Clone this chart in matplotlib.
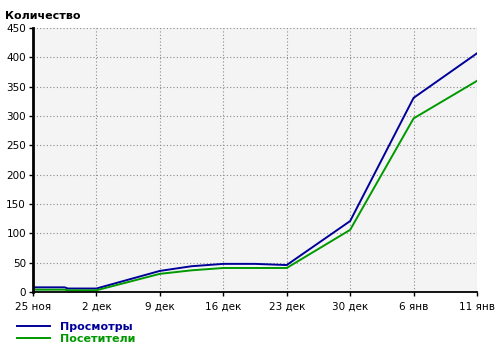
import matplotlib.pyplot as plt

# позиции меток по оси X (равномерные)
labels = ['25 ноя', '2 дек', '9 дек', '16 дек', '23 дек', '30 дек', '6 янв', '11 янв']
ticks = list(range(len(labels)))

# точки линий (индекс метки, значение)
x_views = [0, 0.5, 0.55, 1, 2, 2.5, 3, 3.5, 4, 5, 6, 7]
views = [8, 8, 6, 6, 36, 44, 48, 48, 46, 121, 331, 407]

x_visitors = [0, 0.5, 0.55, 1, 2, 2.5, 3, 4, 5, 6, 7]
visitors = [4, 4, 3, 3, 31, 37, 41, 41, 106, 296, 360]

plt.rcParams['font.family'] = ['DejaVu Sans']

fig = plt.figure(figsize=(5, 3.51), dpi=100)
ax = fig.add_axes([0.066, 0.168, 0.888, 0.752])
ax.set_facecolor('#f4f4f4')

ax.plot(x_views, views, color='#000099', lw=1.4, label='Просмотры')
ax.plot(x_visitors, visitors, color='#009900', lw=1.4, label='Посетители')

ax.set_xlim(0, 7)
ax.set_ylim(0, 450)
ax.set_xticks(ticks)
ax.set_xticklabels(labels)
ax.set_yticks(range(0, 451, 50))
ax.tick_params(labelsize=7.5, length=3, width=1, colors='black', pad=2)
ax.tick_params(axis='x', pad=4)

ax.grid(True, linestyle=(0, (1, 2)), color='#8a8a8a', lw=0.8)
for s in ['top', 'right']:
    ax.spines[s].set_visible(False)
ax.spines['left'].set_linewidth(2)
ax.spines['bottom'].set_linewidth(1.3)

fig.text(0.01, 0.955, 'Количество', fontsize=8, fontweight='bold', va='center')

leg = fig.legend(loc='upper left', bbox_to_anchor=(0.022, 0.098), frameon=False,
                 labelcolor='linecolor', handlelength=3.0,
                 labelspacing=0.15, borderpad=0, handletextpad=0.9,
                 prop={'weight': 'bold', 'size': 8})

fig.savefig('out.png', dpi=100)
